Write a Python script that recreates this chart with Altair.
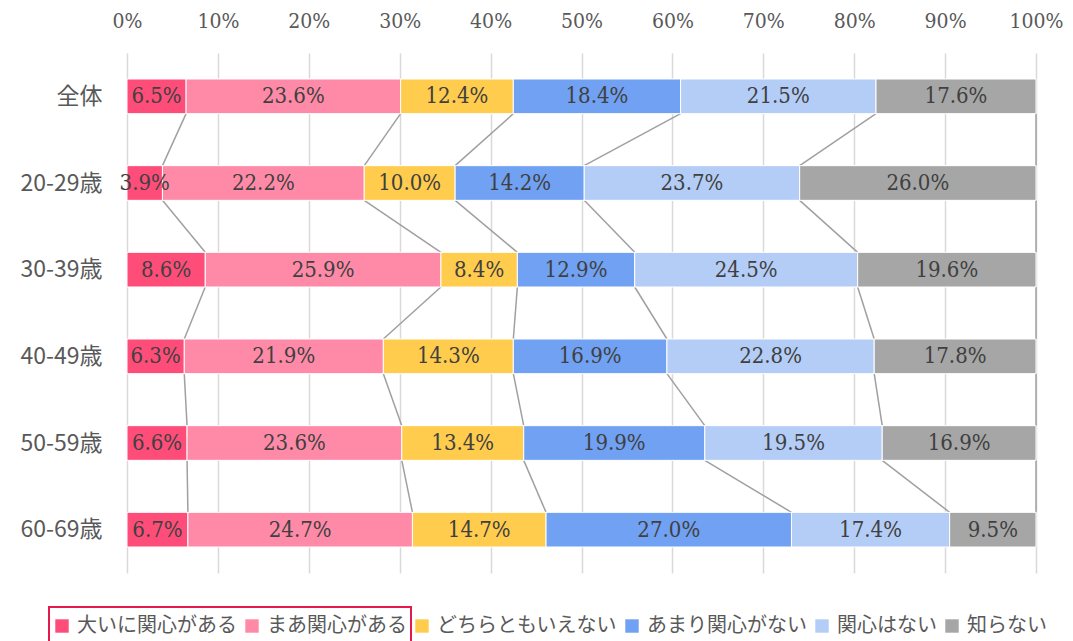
import altair as alt
import pandas as pd

categories = ["全体", "20-29歳", "30-39歳", "40-49歳", "50-59歳", "60-69歳"]
series = ["大いに関心がある", "まあ関心がある", "どちらともいえない", "あまり関心がない", "関心はない", "知らない"]
colors = ["#FF4D7A", "#FF8AA8", "#FFCC4D", "#70A1F2", "#B4CDF7", "#A6A6A6"]

s_daii = [6.5, 3.9, 8.6, 6.3, 6.6, 6.7]
s_maa = [23.6, 22.2, 25.9, 21.9, 23.6, 24.7]
s_dochira = [12.4, 10.0, 8.4, 14.3, 13.4, 14.7]
s_amari = [18.4, 14.2, 12.9, 16.9, 19.9, 27.0]
s_nai = [21.5, 23.7, 24.5, 22.8, 19.5, 17.4]
s_shiranai = [17.6, 26.0, 19.6, 17.8, 16.9, 9.5]
values = [s_daii, s_maa, s_dochira, s_amari, s_nai, s_shiranai]

HALF = 0.2
SERIF = "DejaVu Serif Condensed, DejaVu Serif"

# bar segments (100% normalised like Excel)
rows = []
cums = []  # cumulative boundaries per category
for ci, cat in enumerate(categories):
    total = sum(v[ci] for v in values)
    c = 0.0
    b = []
    for si, s in enumerate(series):
        v = values[si][ci]
        x0 = c / total
        c += v
        x1 = c / total
        b.append(x1)
        rows.append({"cat": cat, "row": ci, "series": s, "order": si,
                     "x0": x0, "x1": x1, "xm": (x0 + x1) / 2,
                     "y0": ci - HALF, "y1": ci + HALF,
                     "label": f"{v:.1f}%"})
    cums.append(b)
bars = pd.DataFrame(rows)

# connector lines between consecutive bars
links = []
for ci in range(len(categories) - 1):
    for k in range(len(series)):
        links.append({"xa": cums[ci][k], "xb": cums[ci + 1][k],
                      "ya": ci + HALF, "yb": ci + 1 - HALF})
links = pd.DataFrame(links)

label_expr = "[" + ",".join(f"'{c}'" for c in categories) + "][datum.value]"

xscale = alt.Scale(domain=[0, 1], nice=False)
yscale = alt.Scale(domain=[-0.5, len(categories) - 0.5], reverse=True, nice=False, zero=False)

x_axis = alt.Axis(orient="top", values=[i / 10 for i in range(11)], format=".0%",
                  labelFont=SERIF, labelFontSize=21, labelColor="#595959",
                  labelFlush=False, labelOverlap=False,
                  ticks=False, domain=False, labelPadding=22,
                  grid=True, gridColor="#d9d9d9", gridWidth=1.5, title=None)
y_axis = alt.Axis(values=list(range(len(categories))), labelExpr=label_expr,
                  labelFont="Noto Sans CJK JP", labelFontSize=23, labelColor="#595959",
                  ticks=False, domain=False, grid=False, labelPadding=25, title=None)

rules = alt.Chart(links).mark_rule(color="#a0a0a0", strokeWidth=1.5).encode(
    x=alt.X("xa:Q", scale=xscale, axis=x_axis),
    x2="xb:Q",
    y=alt.Y("ya:Q", scale=yscale, axis=y_axis),
    y2="yb:Q",
)

bar = alt.Chart(bars).mark_bar(stroke="white", strokeWidth=1).encode(
    x=alt.X("x0:Q", scale=xscale),
    x2="x1:Q",
    y=alt.Y("y0:Q", scale=yscale),
    y2="y1:Q",
    color=alt.Color("series:N", scale=alt.Scale(domain=series, range=colors),
                    legend=alt.Legend(orient="none", direction="horizontal",
                                      legendX=-75, legendY=563, title=None,
                                      symbolType="square", symbolSize=180,
                                      symbolStrokeWidth=0, symbolOpacity=1,
                                      labelFont="Noto Sans CJK JP", labelFontSize=20,
                                      labelColor="#595959", labelOffset=5,
                                      columnPadding=5, padding=0, labelLimit=400)),
)

text = alt.Chart(bars).mark_text(font=SERIF, fontSize=22, color="#404040").encode(
    x=alt.X("xm:Q", scale=xscale),
    y=alt.Y("row:Q", scale=yscale),
    text="label:N",
)

box = alt.Chart(pd.DataFrame({"a": [0]})).mark_rect(
    fill=None, fillOpacity=0, stroke="#e31b4c", strokeWidth=2
).encode(
    x=alt.value(-78), x2=alt.value(284), y=alt.value(554), y2=alt.value(600)
)

chart = alt.layer(rules, bar, text, box).properties(
    width=909, height=520,
    autosize=alt.AutoSizeParams(type="none"),
    padding={"left": 119, "top": 45, "right": 29, "bottom": 68},
).configure_view(stroke=None)

chart.save("out.html", embed_options={"renderer": "svg", "actions": False})
